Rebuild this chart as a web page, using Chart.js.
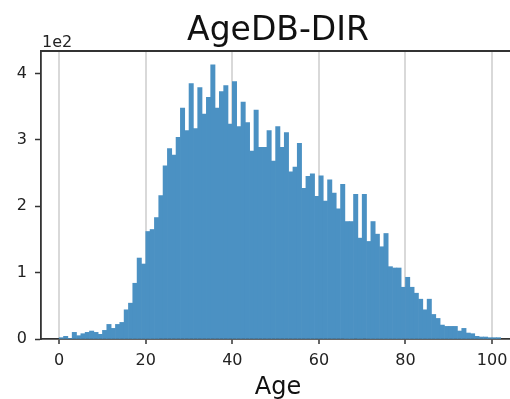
<!DOCTYPE html>
<html>
<head>
<meta charset="utf-8">
<script src="https://cdn.jsdelivr.net/npm/chart.js@4.4.0/dist/chart.umd.min.js"></script>
<style>
  body { margin: 0; background: #fff; }
  #wrap { width: 510px; height: 399px; overflow: hidden; }
</style>
</head>
<body>
<div id="wrap"><canvas id="chart" width="520" height="399"></canvas></div>
<script>
/* AgeDB-DIR age histogram */

const ages = [];
for (let a = 0; a <= 101; a++) ages.push(a);

// samples per age (counts)
const counts = [
  2, 4, 1, 10, 5, 8, 10, 12, 10, 7,
  13, 22, 16, 22, 25, 44, 54, 84, 122, 113,
  162, 165, 183, 216, 261, 287, 277, 304, 348, 314,
  385, 317, 379, 339, 364, 413, 348, 373, 382, 324,
  388, 320, 357, 326, 283, 345, 289, 289, 314, 268,
  320, 289, 311, 252, 259, 295, 227, 245, 249, 215,
  246, 208, 240, 220, 196, 233, 177, 177, 218, 152,
  218, 147, 177, 158, 139, 159, 109, 107, 107, 78,
  93, 78, 69, 60, 44, 60, 37, 31, 21, 19,
  19, 19, 12, 16, 9, 8, 4, 3, 3, 2,
  2, 2
];

const xTicks = [0, 20, 40, 60, 80, 100];
const yTicks = [0, 100, 200, 300, 400];

const FONT = 'DejaVu Sans';
const SPINE = '#333';

// title, "1e2" offset text and top spine
const extras = {
  id: 'extras',
  afterDraw(chart) {
    const ctx = chart.ctx;
    const area = chart.chartArea;
    ctx.save();
    ctx.strokeStyle = SPINE;
    ctx.lineWidth = 1.8;
    ctx.beginPath();
    ctx.moveTo(area.left, area.top);
    ctx.lineTo(area.right + 2, area.top);
    ctx.stroke();

    ctx.fillStyle = '#111';
    ctx.textAlign = 'center';
    ctx.textBaseline = 'alphabetic';
    ctx.font = `33px "${FONT}"`;
    ctx.fillText('AgeDB-DIR', (area.left + area.right) / 2, 40);

    ctx.fillStyle = '#222';
    ctx.textAlign = 'left';
    ctx.font = `16px "${FONT}"`;
    ctx.fillText('1e2', area.left + 1, 47);
    ctx.restore();
  }
};

new Chart(document.getElementById('chart'), {
  type: 'bar',
  data: {
    datasets: [{
      data: ages.map((a, i) => ({ x: a + 0.5, y: counts[i] })),
      backgroundColor: '#4b91c3',
      borderWidth: 0,
      barPercentage: 1,
      categoryPercentage: 1
    }]
  },
  options: {
    responsive: false,
    animation: false,
    layout: { padding: { top: 51, right: 5, left: 0, bottom: 0 } },
    plugins: {
      legend: { display: false },
      tooltip: { enabled: false }
    },
    scales: {
      x: {
        type: 'linear',
        min: -4.2,
        max: 105.3,
        offset: false,
        z: 1, // grid drawn over the bars
        afterBuildTicks: scale => { scale.ticks = xTicks.map(v => ({ value: v })); },
        afterFit: scale => { scale.height = 60; },
        ticks: {
          color: '#222',
          padding: 7,
          font: { family: FONT, size: 16 },
          maxRotation: 0
        },
        grid: {
          offset: false,
          color: 'rgba(0, 0, 0, 0.15)',
          lineWidth: 2,
          tickLength: 5,
          tickColor: SPINE,
          tickWidth: 1.5
        },
        border: { color: SPINE, width: 1.8 },
        title: {
          display: true,
          text: 'Age',
          color: '#111',
          font: { family: FONT, size: 24 },
          padding: { top: 5, bottom: -3 }
        }
      },
      y: {
        min: 0,
        max: 434,
        afterBuildTicks: scale => { scale.ticks = yTicks.map(v => ({ value: v })); },
        afterFit: scale => { scale.width = 41; },
        ticks: {
          color: '#222',
          padding: 8,
          font: { family: FONT, size: 16 },
          callback: v => v / 100
        },
        grid: {
          drawOnChartArea: false,
          tickLength: 6,
          tickColor: SPINE,
          tickWidth: 1.5
        },
        border: { color: SPINE, width: 1.8 }
      }
    }
  },
  plugins: [extras]
});
</script>
</body>
</html>
